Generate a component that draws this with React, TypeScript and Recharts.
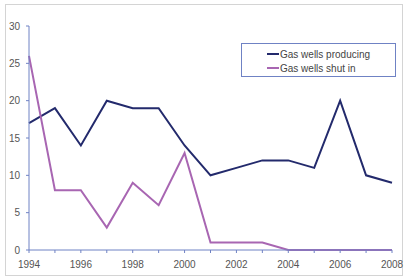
import React from "react";
import { LineChart, Line, XAxis, YAxis } from "recharts";

const years = [1994, 1995, 1996, 1997, 1998, 1999, 2000, 2001, 2002, 2003, 2004, 2005, 2006, 2007, 2008];
const producing = [17, 19, 14, 20, 19, 19, 14, 10, 11, 12, 12, 11, 20, 10, 9];
const shutIn = [26, 8, 8, 3, 9, 6, 13, 1, 1, 1, 0, 0, 0, 0, 0];
const yTicks = [0, 5, 10, 15, 20, 25, 30];
const xTicks = years;
const seriesNames = ["Gas wells producing", "Gas wells shut in"];

const data = years.map((y, i) => ({ year: y, producing: producing[i], shutIn: shutIn[i] }));

const NAVY = "#232a6c";
const PURPLE = "#a866b2";
const AXIS = "#6f82c4";
const FONT = "Liberation Sans, Arial, sans-serif";

const LegendBox = () => (
  <div
    style={{
      position: "absolute",
      left: 241,
      top: 43,
      border: `1px solid ${AXIS}`,
      width: 155,
      height: 34,
      boxSizing: "border-box",
      fontFamily: FONT,
      fontSize: 10,
      color: "#444",
      paddingLeft: 25,
      paddingTop: 3,
    }}
  >
    {[
      { c: NAVY, t: seriesNames[0] },
      { c: PURPLE, t: seriesNames[1] },
    ].map((e) => (
      <div key={e.t} style={{ display: "flex", alignItems: "center", height: 14 }}>
        <span style={{ display: "inline-block", width: 12, height: 2, background: e.c, marginRight: 1 }} />
        <span>{e.t}</span>
      </div>
    ))}
  </div>
);

export default function App() {
  return (
    <div style={{ position: "absolute", left: 0, top: 0, width: 405, height: 277, background: "#fff" }}>
      <div
        style={{
          position: "absolute",
          left: 5,
          top: 4,
          width: 398,
          height: 272,
          border: "1px solid #d4d4d4",
          boxSizing: "border-box",
        }}
      />
      <LineChart width={405} height={277} data={data} margin={{ top: 26, right: 13, bottom: 0, left: 0 }}>
        <XAxis
          dataKey="year"
          type="number"
          domain={[1994, 2008]}
          ticks={xTicks}
          interval={0}
          tickFormatter={(v: number) => (v % 2 === 0 ? String(v) : "")}
          height={27}
          tickSize={3}
          tickMargin={8}
          stroke={AXIS}
          tick={{ fill: "#555", fontSize: 10, fontFamily: FONT }}
        />
        <YAxis
          domain={[0, 30]}
          ticks={yTicks}
          width={29}
          tickSize={3}
          tickMargin={6}
          stroke={AXIS}
          tick={{ fill: "#555", fontSize: 10, fontFamily: FONT }}
        />
        <Line
          dataKey="producing"
          stroke={NAVY}
          strokeWidth={2}
          dot={false}
          isAnimationActive={false}
          strokeLinejoin="miter"
        />
        <Line
          dataKey="shutIn"
          stroke={PURPLE}
          strokeWidth={2}
          dot={false}
          isAnimationActive={false}
          strokeLinejoin="miter"
        />
      </LineChart>
      <LegendBox />
    </div>
  );
}
